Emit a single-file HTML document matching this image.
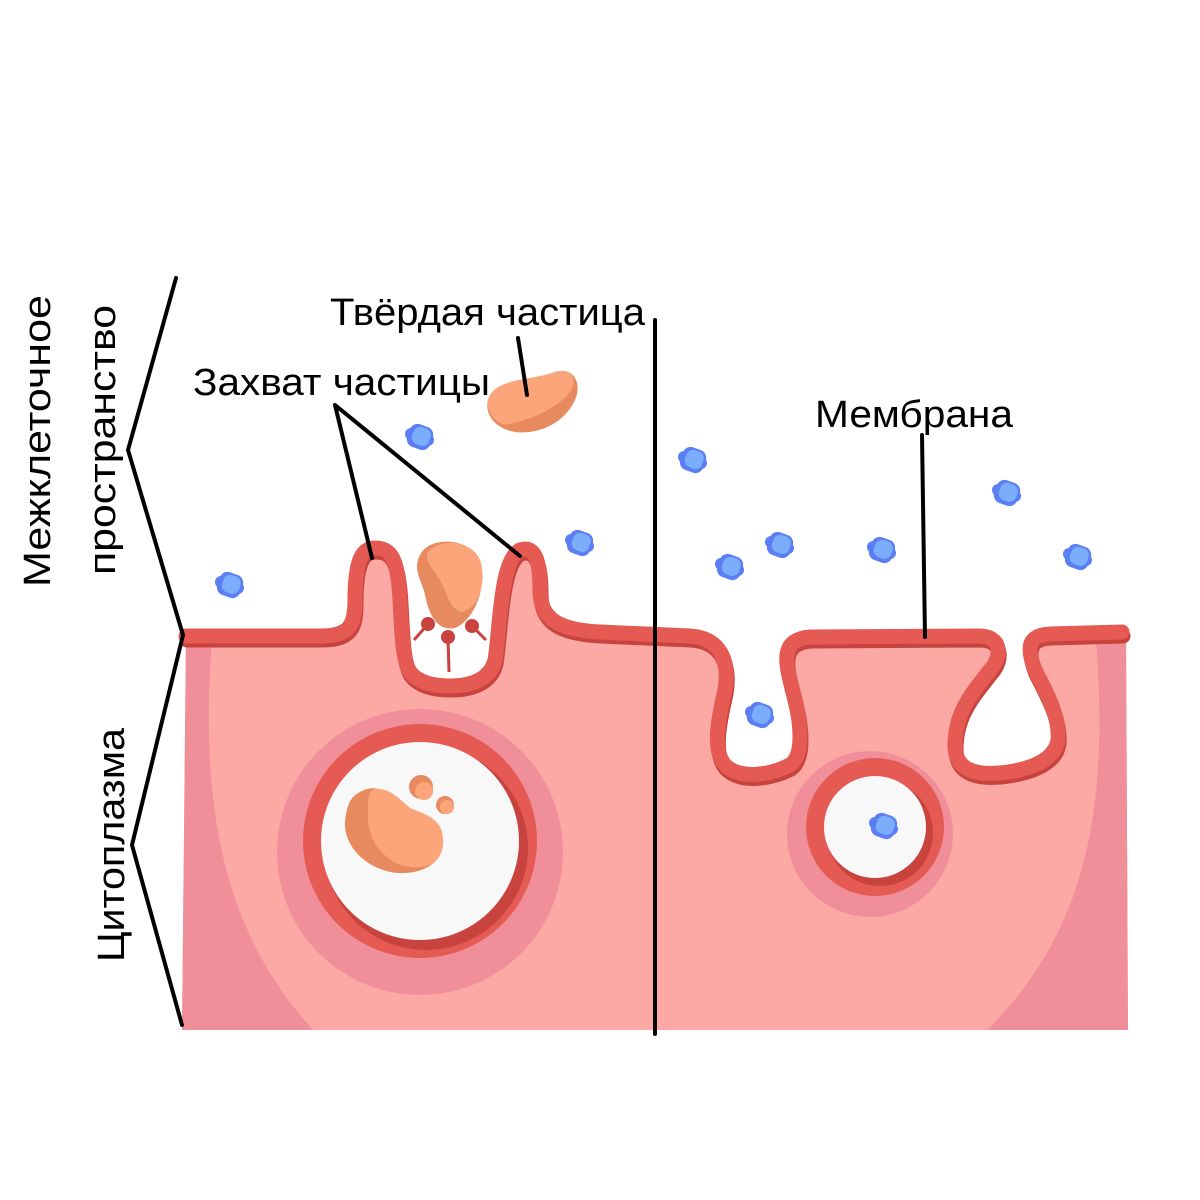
<!DOCTYPE html>
<html><head><meta charset="utf-8"><style>html,body{margin:0;padding:0;background:#fff}svg{display:block}</style></head>
<body>
<svg width="1200" height="1200" viewBox="0 0 1200 1200" xmlns="http://www.w3.org/2000/svg">
<defs>
<clipPath id="cell"><path d="M186 636 L320 636 C350 636 355 625 355 600 C355 560 362 548 375 548 C392 548 398 560 400 600 C402 640 403 660 410 672 C420 685 440 686 450 686 C470 686 490 680 495 660 C500 630 500 560 520 550 C535 545 540 560 540 590 C540 620 560 630 600 632 L690 636 C720 638 730 660 725 690 C718 720 712 750 725 765 C740 780 770 775 790 765 C805 755 800 720 795 700 C788 670 775 640 810 637 L980 636 C1005 637 1000 660 990 670 C975 690 955 710 955 745 C955 770 975 775 1000 773 C1030 770 1055 760 1058 740 C1060 715 1045 690 1035 670 C1025 645 1030 635 1050 634 L1126 632 L1128 1030 L182 1030 Z"/></clipPath>
<g id="blob"><rect x="-12" y="-12" width="24" height="24" rx="8" fill="#5b7ef5" transform="rotate(20)"/><circle cx="-9" cy="-3" r="6" fill="#5b7ef5"/><circle cx="8" cy="3" r="6" fill="#5b7ef5"/><rect x="-8" y="-10" width="18" height="18" rx="7" fill="#7aaefc" transform="rotate(20)"/></g>
<path id="mem" d="M186 636 L320 636 C350 636 355 625 355 600 C355 560 362 548 375 548 C392 548 398 560 400 600 C402 640 403 660 410 672 C420 685 440 686 450 686 C470 686 490 680 495 660 C500 630 500 560 520 550 C535 545 540 560 540 590 C540 620 560 630 600 632 L690 636 C720 638 730 660 725 690 C718 720 712 750 725 765 C740 780 770 775 790 765 C805 755 800 720 795 700 C788 670 775 640 810 637 L980 636 C1005 637 1000 660 990 670 C975 690 955 710 955 745 C955 770 975 775 1000 773 C1030 770 1055 760 1058 740 C1060 715 1045 690 1035 670 C1025 645 1030 635 1050 634 L1122 632" fill="none" stroke-linecap="round" stroke-linejoin="round"/>
</defs>
<g clip-path="url(#cell)">
<rect x="150" y="530" width="1000" height="520" fill="#fca9a6"/>
<path d="M150 640 L212 640 C200 800 220 930 315 1032 L150 1032 Z" fill="#f08f99"/>
<path d="M1150 630 L1095 630 C1110 800 1090 930 985 1032 L1150 1032 Z" fill="#f08f99"/>
</g>
<use href="#mem" stroke="#c9433e" stroke-width="15" transform="translate(1,4)"/>
<use href="#mem" stroke="#e55a52" stroke-width="15"/>
<g stroke="#c9433e" stroke-width="3"><line x1="448" y1="637" x2="449" y2="672"/><line x1="428" y1="624" x2="414" y2="640"/><line x1="472" y1="626" x2="486" y2="640"/></g>
<g fill="#c9433e"><circle cx="428" cy="624" r="7"/><circle cx="448" cy="637" r="7"/><circle cx="472" cy="626" r="7"/></g>
<path d="M420 555 C430 535 470 538 480 560 C488 585 475 620 455 628 C435 632 428 610 425 595 C422 580 412 570 420 555 Z" fill="#e88a60"/>
<path d="M428 552 C440 538 472 540 480 560 C487 585 478 608 462 612 C450 610 448 595 440 580 C432 568 424 560 428 552 Z" fill="#fca57a"/>
<circle cx="420" cy="852" r="143" fill="#f08f99"/>
<circle cx="420" cy="841" r="117" fill="#e55a52"/>
<circle cx="426" cy="848" r="102" fill="#c9433e"/>
<circle cx="420" cy="841" r="99" fill="#f8f8f8"/>
<path d="M360 792 C380 780 400 800 410 808 C425 815 445 818 443 845 C440 870 410 876 390 872 C360 865 340 840 346 815 C348 802 352 796 360 792 Z" fill="#e88a60"/>
<path d="M372 790 C388 785 400 800 410 808 C425 815 445 818 443 845 C440 868 420 870 400 865 C378 855 366 835 368 810 C368 800 368 795 372 790 Z" fill="#fca57a"/>
<circle cx="421" cy="787" r="12" fill="#e88a60"/><circle cx="424" cy="791" r="9" fill="#fca57a"/>
<circle cx="445" cy="805" r="9" fill="#e88a60"/><circle cx="447" cy="807" r="7" fill="#fca57a"/>
<circle cx="870" cy="834" r="83" fill="#f08f99"/>
<circle cx="875" cy="827" r="69" fill="#e55a52"/>
<circle cx="880" cy="833" r="53" fill="#c9433e"/>
<circle cx="875" cy="827" r="51" fill="#f8f8f8"/>
<use href="#blob" x="884" y="826"/>
<path d="M490 395 C500 378 535 380 555 372 C575 366 582 385 575 400 C565 422 540 435 515 432 C492 428 482 410 490 395 Z" fill="#e88a60"/>
<path d="M490 395 C500 378 535 380 555 372 C572 368 578 378 570 392 C555 410 530 420 505 425 C490 420 484 405 490 395 Z" fill="#fca57a"/>
<use href="#blob" x="420" y="437"/><use href="#blob" x="230" y="585"/><use href="#blob" x="580" y="543"/>
<use href="#blob" x="693" y="460"/><use href="#blob" x="730" y="567"/><use href="#blob" x="780" y="545"/>
<use href="#blob" x="882" y="550"/><use href="#blob" x="1007" y="493"/><use href="#blob" x="1078" y="557"/>
<use href="#blob" x="760" y="715"/>
<g stroke="#000" stroke-width="4" fill="none" stroke-linecap="round" stroke-linejoin="round">
<polyline points="176,278 128,450 183,635 132,845 182,1025"/>
<line x1="655" y1="320" x2="655" y2="1034"/>
<line x1="518" y1="338" x2="527" y2="395"/>
<polyline points="372,558 335,405 520,556"/>
<line x1="922" y1="435" x2="925" y2="637"/>
</g>
<g font-family="Liberation Sans, DejaVu Sans, sans-serif" font-size="38" fill="#000">
<text x="330" y="325" textLength="315" lengthAdjust="spacingAndGlyphs">Твёрдая частица</text>
<text x="193" y="395" textLength="297" lengthAdjust="spacingAndGlyphs">Захват частицы</text>
<text x="815" y="427" textLength="198" lengthAdjust="spacingAndGlyphs">Мембрана</text>
<text transform="translate(50,587) rotate(-90)" textLength="292" lengthAdjust="spacingAndGlyphs">Межклеточное</text>
<text transform="translate(115,575) rotate(-90)" textLength="270" lengthAdjust="spacingAndGlyphs">пространство</text>
<text transform="translate(124,962) rotate(-90)" textLength="234" lengthAdjust="spacingAndGlyphs">Цитоплазма</text>
</g>
</svg>
</body></html>
